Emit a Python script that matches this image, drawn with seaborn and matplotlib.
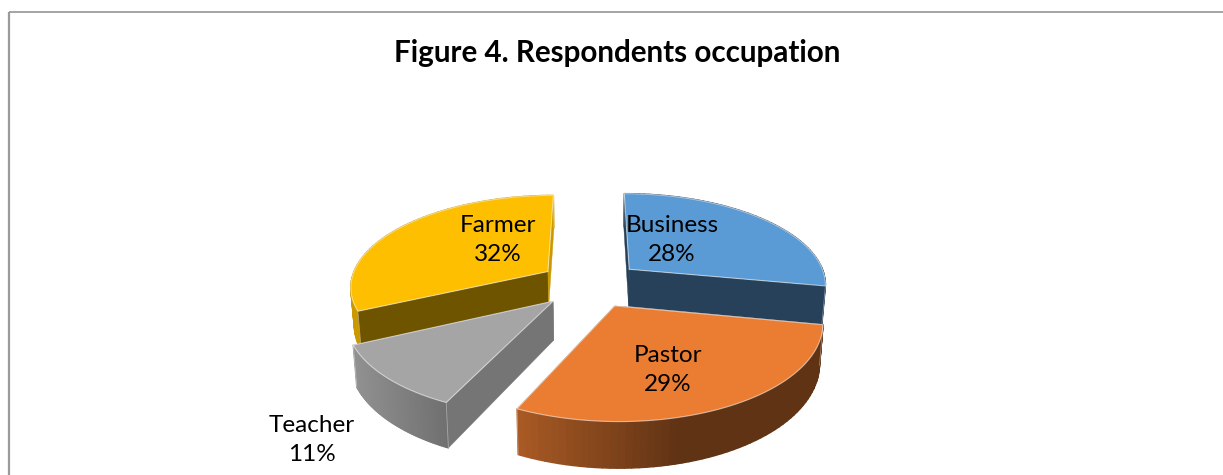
import numpy as np
import seaborn as sns
import matplotlib
matplotlib.use("Agg")
import matplotlib.pyplot as plt
from matplotlib.collections import PolyCollection

title = "Figure 4. Respondents occupation"
occupations = ["Business", "Pastor", "Teacher", "Farmer"]
shares = [28, 29, 11, 32]
top_colors = ["#5B9BD5", "#EB7D32", "#A5A5A5", "#FDBF00"]

# layout of the fake 3d pie, in pixels of the 1223x475 picture
CX, CY, R = 590.5, 284, 198
TILT, PERSP, EXPLODE = 0.46, 0.15, 0.26
DEPTH = 38
label_xy = [(672, 240), (668, 370), (312, 440), (498, 240)]
# wall shade: x range on screen and shade factor at both ends
wall_shade = [
    ([600, 830], [0.42, 0.42]),
    ([517, 680], [0.72, 0.405]),
    ([357, 449], [0.87, 0.67]),
    ([340, 560], [0.80, 0.80]),
]
# shade of the two flat cut faces (first edge, last edge)
cut_shade = [(0.42, 0.42), (0.40, 0.40), (0.71, 0.71), (0.44, 0.80)]

sns.set_theme(style="white")
plt.rcParams["font.family"] = ["Lato", "DejaVu Sans"]


# ground plane position -> screen, with a bit of perspective
def project(u, v, low=False):
    u, v = np.asarray(u, float), np.asarray(v, float)
    s = 1 / (1 - PERSP * v)
    x = CX + R * u * s
    y = CY + R * TILT * v * s
    if low:
        x = CX + (x - CX) * 0.985
        y = y + DEPTH * s
    return np.column_stack([x, y])


def shaded(color, f):
    return tuple(np.clip(np.array(matplotlib.colors.to_rgb(color)) * f, 0, 1))


fig = plt.figure(figsize=(12.23, 4.75), dpi=100)
ax = fig.add_axes([0, 0, 1, 1])
ax.set_xlim(0, 1223)
ax.set_ylim(475, 0)
ax.axis("off")

# chart frame, runs off the picture on the right and bottom
ax.plot([9, 9], [500, 11.5], color="#9A9A9A", lw=1.6, solid_capstyle="butt")
ax.plot([9, 1230], [11.5, 11.5], color="#8C8C8C", lw=1.1, solid_capstyle="butt")

edges = np.cumsum([0] + shares) / sum(shares) * 2 * np.pi
palette = sns.color_palette(top_colors)

# back slices first
order = [3, 0, 2, 1]
for i in order:
    a0, a1 = edges[i], edges[i + 1]
    mid = (a0 + a1) / 2
    ou, ov = EXPLODE * np.sin(mid), -EXPLODE * np.cos(mid)
    ang = np.linspace(a0, a1, 60)
    au, av = ou + np.sin(ang), ov - np.cos(ang)

    top = project(au, av)
    low = project(au, av, low=True)
    apex = project([ou], [ov])
    apex_low = project([ou], [ov], low=True)

    quads = [[top[j], top[j + 1], low[j + 1], low[j]] for j in range(len(ang) - 1)]
    xmid = (top[:-1, 0] + top[1:, 0]) / 2
    xs, fs = wall_shade[i]
    cols = [shaded(palette[i], f) for f in np.interp(xmid, xs, fs)]
    outer = PolyCollection(quads, facecolors=cols, edgecolors=cols, linewidths=1.0)

    def draw_cuts(z):
        for k, end in enumerate([0, -1]):
            face = [apex[0], top[end], low[end], apex_low[0]]
            ax.fill(*zip(*face), color=shaded(palette[i], cut_shade[i][k]), lw=0.3, zorder=z)

    z = order.index(i) * 10 + 2
    # walls facing the viewer go after the cut faces
    if -np.cos(mid) > 0:
        draw_cuts(z)
        outer.set_zorder(z + 1)
        ax.add_collection(outer)
    else:
        outer.set_zorder(z)
        ax.add_collection(outer)
        draw_cuts(z + 1)

    # top of the slice with a thin light bevel
    poly = np.vstack([apex, top])
    ax.fill(poly[:, 0], poly[:, 1], color=palette[i], lw=0, zorder=z + 2)
    closed = np.vstack([poly, apex])
    ax.plot(closed[:, 0], closed[:, 1], color="white", alpha=0.55, lw=0.8, zorder=z + 3)
    ax.plot([top[0, 0], low[0, 0]], [top[0, 1], low[0, 1]], color="white", alpha=0.4, lw=0.6, zorder=z + 3)
    ax.plot([top[-1, 0], low[-1, 0]], [top[-1, 1], low[-1, 1]], color="white", alpha=0.4, lw=0.6, zorder=z + 3)

for name, share, (lx, ly) in zip(occupations, shares, label_xy):
    ax.text(lx, ly, f"{name}\n{share}%", ha="center", va="center", fontsize=17.5,
            color="black", linespacing=1.45, zorder=100)

ax.text(617, 53, title, ha="center", va="center", fontsize=21.3, fontweight="bold", color="black")

fig.savefig("out.png", dpi=100, facecolor="white")
